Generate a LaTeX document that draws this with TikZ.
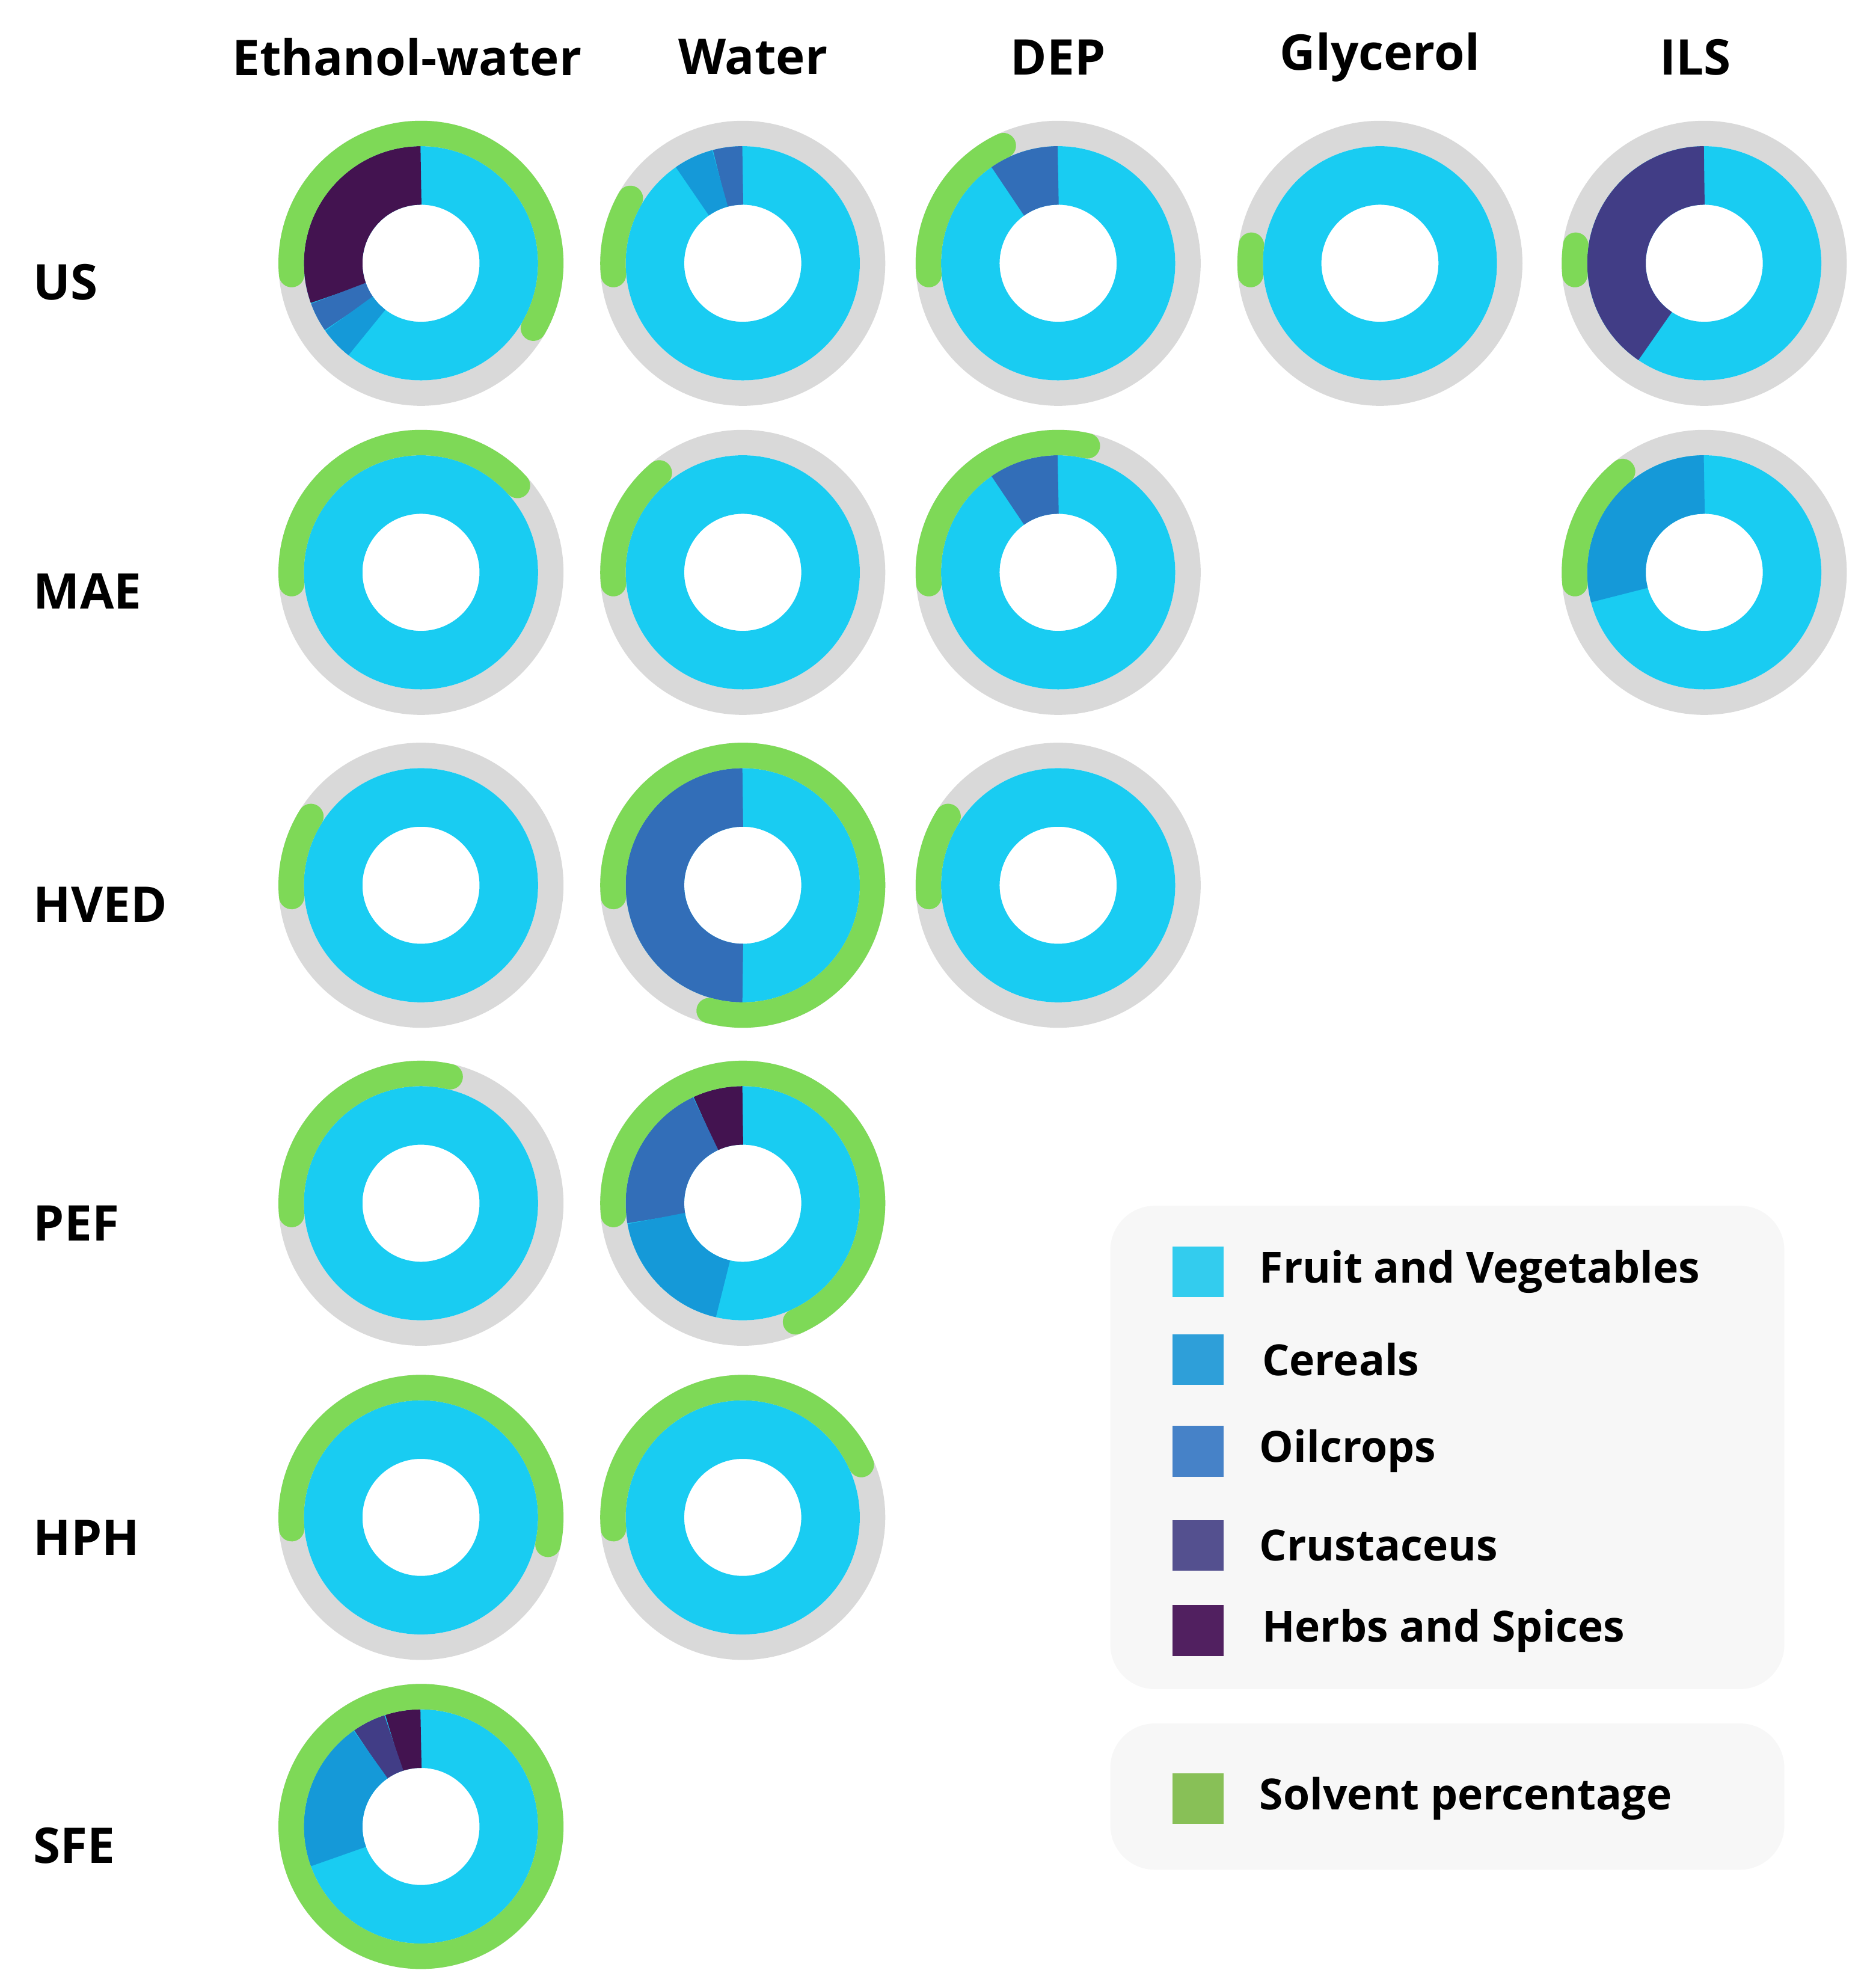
\documentclass[tikz,border=0pt]{standalone}
\usepackage{fontspec}
\setmainfont{Open Sans}
\definecolor{fruit}{HTML}{19CCF2}
\definecolor{cereal}{HTML}{1599D8}
\definecolor{oil}{HTML}{326EB8}
\definecolor{crust}{HTML}{413D86}
\definecolor{herb}{HTML}{431350}
\definecolor{ringgray}{HTML}{D9D9D9}
\definecolor{solv}{HTML}{7ED957}
\definecolor{lfruit}{HTML}{33CCEE}
\definecolor{lcereal}{HTML}{2E9FD9}
\definecolor{loil}{HTML}{4682C8}
\definecolor{lcrust}{HTML}{54508F}
\definecolor{lherb}{HTML}{512060}
\definecolor{lsolv}{HTML}{88C057}
\definecolor{legbg}{HTML}{F7F7F7}
\tikzset{
  head/.style={font=\fontsize{11}{13}\selectfont\bfseries},
  rowlab/.style={font=\fontsize{11}{13}\selectfont\bfseries, anchor=west},
  legtext/.style={font=\fontsize{9.6}{12}\selectfont\bfseries, anchor=west},
  legbox/.style={minimum width=0.4cm, minimum height=0.4cm, inner sep=0pt},
  ring/.style={draw=ringgray, line width=0.2cm},
  seg/.style={line width=0.46cm},
  solvent/.style={draw=solv, line width=0.2cm, line cap=round},
}
% #1 centre, #2 segments a/b/colour, #3 end angle of solvent arc
\newcommand{\donut}[3]{
  \draw[ring] (#1) circle[radius=1.02cm];
  \draw[seg, fruit] (#1) circle[radius=0.69cm];
  \foreach \a/\b/\c in {#2}
    \draw[seg, \c] ([shift={(\a:0.69cm)}]#1) arc[start angle=\a, end angle=\b, radius=0.69cm];
  \draw[solvent] ([shift={(185:1.02cm)}]#1) arc[start angle=185, end angle=#3, radius=1.02cm];
}
\begin{document}
\begin{tikzpicture}[x=0.01cm, y=0.01cm]
   \useasboundingbox (0,0) rectangle (1470,1563);

   \node (hEW) at (320,1518) [head] {Ethanol-water};
   \node (hW) at (592,1518) [head] {Water};
   \node (hDEP) at (832,1518) [head] {DEP};
   \node (hGly) at (1085,1518) [head] {Glycerol};
   \node (hILS) at (1333,1518) [head] {ILS};

   \node (rUS) at (14,1341) [rowlab] {US};
   \node (rMAE) at (14,1098) [rowlab] {MAE};
   \node (rHVED) at (14,852) [rowlab] {HVED};
   \node (rPEF) at (14,601) [rowlab] {PEF};
   \node (rHPH) at (14,354) [rowlab] {HPH};
   \node (rSFE) at (14,112) [rowlab] {SFE};

   % US
   \donut{331,1356}{90/200/herb, 200/215/oil, 215/232/cereal}{-30}
   \donut{584,1356}{90/105/oil, 105/125/cereal}{150}
   \donut{832,1356}{90/125/oil}{115}
   \donut{1085,1356}{}{172}
   \donut{1340,1356}{90/236/crust}{172}
   % MAE
   \donut{331,1113}{}{42}
   \donut{584,1113}{}{130}
   \donut{832,1113}{90/125/oil}{77}
   \donut{1340,1113}{90/195/cereal}{129}
   % HVED
   \donut{331,867}{}{148}
   \donut{584,867}{90/270/oil}{-105}
   \donut{832,867}{}{148}
   % PEF
   \donut{331,617}{}{77}
   \donut{584,617}{90/115/herb, 115/190/oil, 190/257/cereal}{-66}
   % HPH
   \donut{331,370}{}{-12}
   \donut{584,370}{}{24}
   % SFE
   \donut{331,127}{90/108/herb, 108/125/crust, 125/200/cereal}{-175}

   % legend
   \fill[legbg, rounded corners=0.35cm] (873,235) rectangle (1403,615);
   \fill[legbg, rounded corners=0.35cm] (873,93) rectangle (1403,208);
   \node (kFruit) at (942,563) [legbox, fill=lfruit] {};
   \node (kCereal) at (942,494) [legbox, fill=lcereal] {};
   \node (kOil) at (942,422) [legbox, fill=loil] {};
   \node (kCrust) at (942,348) [legbox, fill=lcrust] {};
   \node (kHerb) at (942,281) [legbox, fill=lherb] {};
   \node (kSolv) at (942,149) [legbox, fill=lsolv] {};
   \node (tFruit) at (978,563) [legtext] {Fruit and Vegetables};
   \node (tCereal) at (980,494) [legtext] {Cereals};
   \node (tOil) at (978,422) [legtext] {Oilcrops};
   \node (tCrust) at (978,348) [legtext] {Crustaceus};
   \node (tHerb) at (980,281) [legtext] {Herbs and Spices};
   \node (tSolv) at (978,149) [legtext] {Solvent percentage};
\end{tikzpicture}
\end{document}
